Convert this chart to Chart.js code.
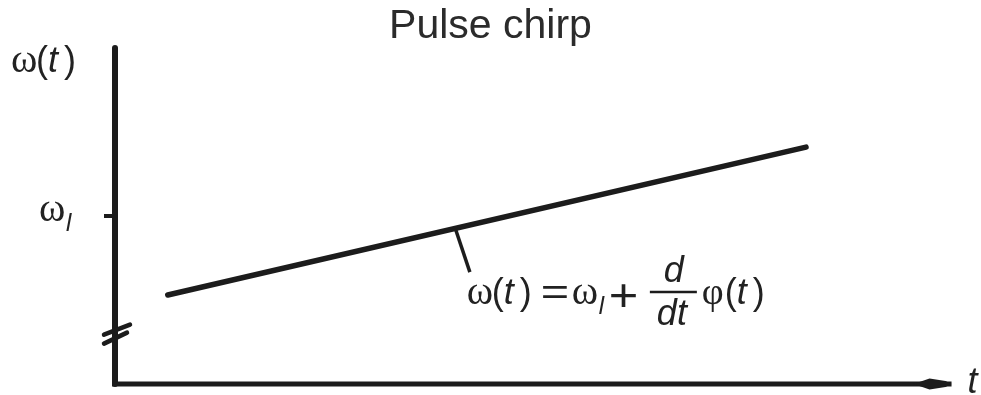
<!DOCTYPE html>
<html lang="en-US">
  <head>
    <meta charset="utf-8" />
    <title>Pulse chirp</title>
    <style>
      body{
        margin: 0;
        background: #fff;
      }
      #chart{
        display: block;
      }
    </style>
  </head>
  <body>
    <canvas id="chart" width="981" height="395"></canvas>

    <script src="https://cdn.jsdelivr.net/npm/chart.js@4.4.1/dist/chart.umd.min.js"></script>
    <script>
      // time axis and frequency axis ranges (arbitrary units)
      const tRange = [0, 10];
      const wRange = [0, 10];
      const tAxisEnd = 9.83;

      // instantaneous frequency: a straight rising line
      const chirpT = [0.62, 8.12];
      const chirpW = [2.65, 7.05];

      // short leader from the line down to the formula
      const leaderT = [4.0, 4.17];
      const leaderW = [4.62, 3.33];

      // the one tick on the frequency axis (carrier frequency)
      const wTicks = [5];
      const wTickLabels = [["ω", "l"]];

      // axis break sits low on the frequency axis
      const breakAt = 1.47;

      const INK = "#1c1c1c";
      const TEXT = "#222";
      const SANS = "'Liberation Sans', Arial, sans-serif";
      const SERIF = "'Liberation Serif', 'DejaVu Serif', serif";

      const toPoints = (xs, ys) => xs.map((x, i) => ({ x: x, y: ys[i] }));

      // draws text pieces at offsets from one anchor (baseline)
      function drawRuns(ctx, x0, y0, runs){
        runs.forEach(r => {
          ctx.save();
          ctx.font = r.font;
          ctx.fillStyle = TEXT;
          ctx.textAlign = r.align || "left";
          ctx.textBaseline = "alphabetic";
          ctx.translate(x0 + r.dx, y0 + (r.dy || 0));
          if (r.sx) ctx.scale(r.sx, 1);
          ctx.fillText(r.text, 0, 0);
          ctx.restore();
        });
      }

      const omegaOfT = [
        { text: "ω", font: "40px " + SERIF, dx: -1 },
        { text: "(", font: "36px " + SANS, dx: 24 },
        { text: "t", font: "italic 36px " + SANS, dx: 36 },
        { text: ")", font: "36px " + SANS, dx: 52 }
      ];

      function subRuns(main, sub, dx){
        return [
          { text: main, font: "40px " + SERIF, dx: dx - 1 },
          { text: sub, font: "italic 24px " + SANS, dx: dx + 26, dy: 10 }
        ];
      }

      const phiOfT = [
        { text: "φ", font: "38px " + SERIF, dx: 234 },
        { text: "(", font: "36px " + SANS, dx: 257 },
        { text: "t", font: "italic 36px " + SANS, dx: 269 },
        { text: ")", font: "36px " + SANS, dx: 285 }
      ];

      const formula = [].concat(
        omegaOfT,
        [{ text: "=", font: "36px " + SANS, dx: 73, sx: 1.35 }],
        subRuns("ω", "l", 105),
        [{ text: "+", font: "46px " + SANS, dx: 141, dy: 7, sx: 1.1 }],
        [
          { text: "d", font: "italic 36px " + SANS, dx: 206, dy: -22, align: "center" },
          { text: "dt", font: "italic 36px " + SANS, dx: 204, dy: 21, align: "center" }
        ],
        phiOfT
      );

      // axes, break mark, tick, labels and the formula
      const sketchPlugin = {
        id: "sketch",
        afterDatasetsDraw(chart){
          const ctx = chart.ctx;
          const xs = chart.scales.x;
          const ys = chart.scales.y;
          const ax = xs.getPixelForValue(tRange[0]);
          const ay = ys.getPixelForValue(wRange[0]);
          const top = ys.getPixelForValue(wRange[1]);
          const end = xs.getPixelForValue(tAxisEnd);

          ctx.save();
          ctx.strokeStyle = INK;
          ctx.fillStyle = INK;

          // frequency axis
          ctx.lineWidth = 6;
          ctx.lineCap = "round";
          ctx.beginPath();
          ctx.moveTo(ax, top);
          ctx.lineTo(ax, ay);
          ctx.stroke();

          // time axis
          ctx.lineWidth = 5;
          ctx.lineCap = "butt";
          ctx.beginPath();
          ctx.moveTo(ax - 3, ay);
          ctx.lineTo(end, ay);
          ctx.stroke();

          // arrow head on the time axis
          ctx.beginPath();
          ctx.moveTo(end - 38, ay);
          ctx.lineTo(end - 22, ay - 5.5);
          ctx.lineTo(end - 6, ay - 3);
          ctx.lineTo(end, ay);
          ctx.lineTo(end - 6, ay + 3);
          ctx.lineTo(end - 22, ay + 5.5);
          ctx.closePath();
          ctx.fill();

          // axis break
          const by = ys.getPixelForValue(breakAt);
          ctx.lineWidth = 4.5;
          ctx.lineCap = "round";
          ctx.beginPath();
          ctx.moveTo(ax - 11, by);
          ctx.lineTo(ax + 15, by - 10);
          ctx.moveTo(ax - 11, by + 9);
          ctx.lineTo(ax + 12, by - 2);
          ctx.stroke();

          // ticks on the frequency axis
          ctx.lineWidth = 4;
          ctx.lineCap = "butt";
          wTicks.forEach((w, i) => {
            const py = ys.getPixelForValue(w);
            ctx.beginPath();
            ctx.moveTo(ax - 11, py);
            ctx.lineTo(ax, py);
            ctx.stroke();
            const lbl = wTickLabels[i];
            drawRuns(ctx, ax - 75, py + 5, subRuns(lbl[0], lbl[1], 0));
          });

          // fraction bar in the formula
          const fx = xs.getPixelForValue(leaderT[1]) - 2;
          const fy = ys.getPixelForValue(leaderW[1]) + 32;
          ctx.lineWidth = 2.5;
          ctx.beginPath();
          ctx.moveTo(fx + 182, fy - 12);
          ctx.lineTo(fx + 229, fy - 12);
          ctx.stroke();
          ctx.restore();

          // axis titles
          drawRuns(ctx, ax - 103, top + 24, omegaOfT);
          drawRuns(ctx, end + 16, ay + 9, [{ text: "t", font: "italic 36px " + SANS, dx: 0 }]);

          // formula hanging from the leader
          drawRuns(ctx, fx, fy, formula);
        }
      };

      new Chart(document.getElementById("chart"), {
        type: "line",
        data: {
          datasets: [
            {
              label: "ω(t)",
              data: toPoints(chirpT, chirpW),
              borderColor: INK,
              borderWidth: 5.5,
              borderCapStyle: "round",
              pointRadius: 0,
              tension: 0
            },
            {
              label: "leader",
              data: toPoints(leaderT, leaderW),
              borderColor: INK,
              borderWidth: 3.5,
              pointRadius: 0,
              tension: 0
            }
          ]
        },
        options: {
          responsive: false,
          devicePixelRatio: 1,
          animation: false,
          events: [],
          layout: {
            padding: { left: 15, right: 15, top: 0, bottom: 11 }
          },
          scales: {
            x: {
              type: "linear",
              min: tRange[0],
              max: tRange[1],
              display: false
            },
            y: {
              type: "linear",
              min: wRange[0],
              max: wRange[1],
              display: true,
              ticks: { display: false },
              grid: { display: false },
              border: { display: false },
              afterFit: (scale) => { scale.width = 100; }
            }
          },
          plugins: {
            legend: { display: false },
            tooltip: { enabled: false },
            title: {
              display: true,
              text: "Pulse chirp",
              color: "#2b2b2b",
              font: { family: SANS, size: 41, weight: "normal", lineHeight: 1 },
              padding: { top: 6, bottom: 1 }
            }
          }
        },
        plugins: [sketchPlugin]
      });
    </script>
  </body>
</html>
